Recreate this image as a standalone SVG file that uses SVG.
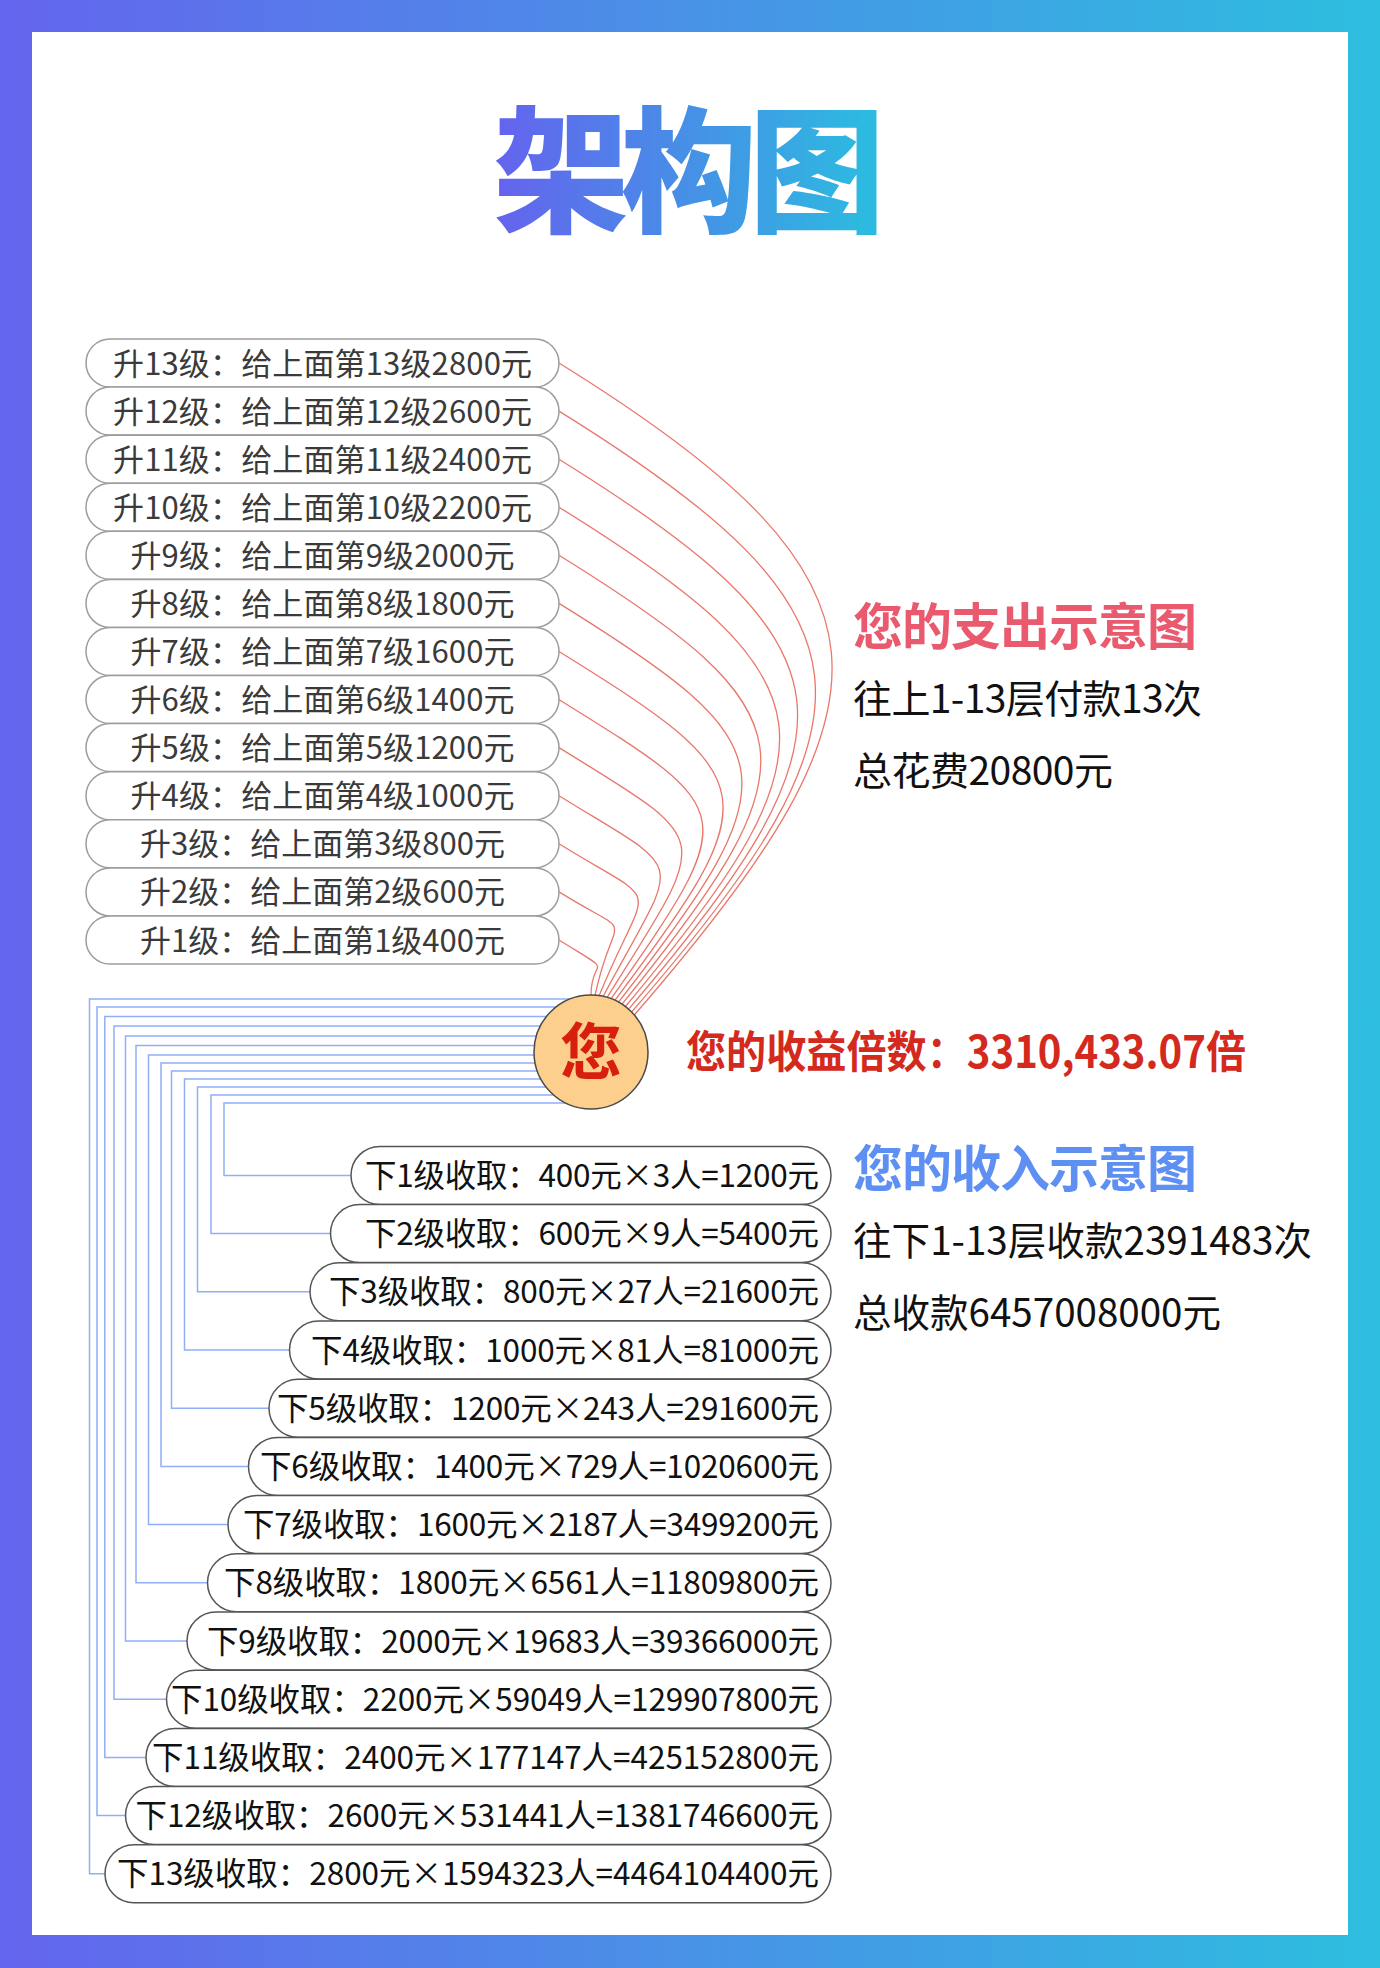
<svg xmlns="http://www.w3.org/2000/svg" width="1380" height="1968" viewBox="0 0 1380 1968">
<defs>
<linearGradient id="frameGrad" x1="0" y1="0" x2="1380" y2="0" gradientUnits="userSpaceOnUse">
<stop offset="0" stop-color="#6465EE"/>
<stop offset="1" stop-color="#2DBEDF"/>
</linearGradient>
<linearGradient id="titleGrad" x1="500" y1="0" x2="878" y2="0" gradientUnits="userSpaceOnUse">
<stop offset="0" stop-color="#6464EE"/>
<stop offset="0.5" stop-color="#4690E6"/>
<stop offset="1" stop-color="#2BBDE0"/>
</linearGradient>
<style>
.cjk{font-family:"Noto Sans CJK SC","Noto Sans",sans-serif}
.upPill{fill:#fff;stroke:#9d9d9d;stroke-width:1.5}
.dnPill{fill:#fff;stroke:#555;stroke-width:1.5}
.upTxt{font-size:31px;fill:#3a3a3a;text-anchor:middle}
.dnTxt{font-size:31.5px;fill:#111;text-anchor:end}
.red{fill:none;stroke:#E9776A;stroke-width:1.3}
.blue{fill:none;stroke:#8FAFF7;stroke-width:1.5}
.blk{font-size:39px;fill:#111}
</style>
</defs>
<rect x="0" y="0" width="1380" height="1968" fill="url(#frameGrad)"/>
<rect x="32" y="32" width="1316" height="1903" fill="#fff"/>

<g id="title">
<text class="cjk" x="493" y="222" font-size="136" font-weight="900" fill="url(#titleGrad)" textLength="392" lengthAdjust="spacing">架构图</text>
</g>

<g id="connectors">
<g id="red-curves">
<path class="red" d="M559 940 C619 977.2 591 955 591 995"/>
<path class="red" d="M559 891.9 C640 942 614.2 905.1 595.1 995.1"/>
<path class="red" d="M559 843.8 C667.3 911 648.2 874.3 599.2 995.6"/>
<path class="red" d="M559 795.7 C691.5 877.9 680.9 850.3 603.2 996.3"/>
<path class="red" d="M559 747.6 C715.7 844.8 712 829.6 607.2 997.3"/>
<path class="red" d="M559 699.6 C739.8 811.7 742.2 811.5 611.1 998.7"/>
<path class="red" d="M559 651.5 C764 778.6 770.3 794.1 614.9 1000.3"/>
<path class="red" d="M559 603.4 C788.2 745.5 795.2 775.9 618.5 1002.1"/>
<path class="red" d="M559 555.3 C812.3 712.3 820.2 759.5 622 1004.2"/>
<path class="red" d="M559 507.2 C836.5 679.3 845 744.8 625.4 1006.5"/>
<path class="red" d="M559 459.2 C860.7 646.3 867.8 729 628.6 1009.1"/>
<path class="red" d="M559 411.1 C884.8 613.1 890.4 714.3 631.6 1012"/>
<path class="red" d="M559 363 C909 580 909.9 698 634.3 1015"/>
</g>
<g id="blue-lines">
<path class="blue" d="M591 1103 H224 V1175.4 H351"/>
<path class="blue" d="M591 1095 H211 V1233.6 H330.5"/>
<path class="blue" d="M591 1087 H197.5 V1291.8 H310"/>
<path class="blue" d="M591 1079 H184.5 V1350 H289.5"/>
<path class="blue" d="M591 1071 H171.5 V1408.2 H269"/>
<path class="blue" d="M591 1063 H161 V1466.4 H248.5"/>
<path class="blue" d="M591 1055 H148.5 V1524.6 H228"/>
<path class="blue" d="M591 1045.5 H136 V1582.8 H207.5"/>
<path class="blue" d="M591 1036 H125.5 V1641 H187"/>
<path class="blue" d="M591 1026 H114 V1699.2 H166.5"/>
<path class="blue" d="M591 1016.5 H104.8 V1757.4 H146"/>
<path class="blue" d="M591 1007 H97 V1815.6 H125.5"/>
<path class="blue" d="M591 999 H89.5 V1873.8 H105"/>
</g>
</g>

<g id="up13"><rect class="upPill" x="86" y="339" width="473" height="48" rx="24"/><text class="cjk upTxt" x="322.5" y="374.5" textLength="419" lengthAdjust="spacing">升13级：给上面第13级2800元</text></g>
<g id="up12"><rect class="upPill" x="86" y="387.1" width="473" height="48" rx="24"/><text class="cjk upTxt" x="322.5" y="422.6" textLength="419" lengthAdjust="spacing">升12级：给上面第12级2600元</text></g>
<g id="up11"><rect class="upPill" x="86" y="435.2" width="473" height="48" rx="24"/><text class="cjk upTxt" x="322.5" y="470.7" textLength="419" lengthAdjust="spacing">升11级：给上面第11级2400元</text></g>
<g id="up10"><rect class="upPill" x="86" y="483.2" width="473" height="48" rx="24"/><text class="cjk upTxt" x="322.5" y="518.7" textLength="419" lengthAdjust="spacing">升10级：给上面第10级2200元</text></g>
<g id="up9"><rect class="upPill" x="86" y="531.3" width="473" height="48" rx="24"/><text class="cjk upTxt" x="322.5" y="566.8" textLength="384" lengthAdjust="spacing">升9级：给上面第9级2000元</text></g>
<g id="up8"><rect class="upPill" x="86" y="579.4" width="473" height="48" rx="24"/><text class="cjk upTxt" x="322.5" y="614.9" textLength="384" lengthAdjust="spacing">升8级：给上面第8级1800元</text></g>
<g id="up7"><rect class="upPill" x="86" y="627.5" width="473" height="48" rx="24"/><text class="cjk upTxt" x="322.5" y="663" textLength="384" lengthAdjust="spacing">升7级：给上面第7级1600元</text></g>
<g id="up6"><rect class="upPill" x="86" y="675.6" width="473" height="48" rx="24"/><text class="cjk upTxt" x="322.5" y="711.1" textLength="384" lengthAdjust="spacing">升6级：给上面第6级1400元</text></g>
<g id="up5"><rect class="upPill" x="86" y="723.6" width="473" height="48" rx="24"/><text class="cjk upTxt" x="322.5" y="759.1" textLength="384" lengthAdjust="spacing">升5级：给上面第5级1200元</text></g>
<g id="up4"><rect class="upPill" x="86" y="771.7" width="473" height="48" rx="24"/><text class="cjk upTxt" x="322.5" y="807.2" textLength="384" lengthAdjust="spacing">升4级：给上面第4级1000元</text></g>
<g id="up3"><rect class="upPill" x="86" y="819.8" width="473" height="48" rx="24"/><text class="cjk upTxt" x="322.5" y="855.3" textLength="365" lengthAdjust="spacing">升3级：给上面第3级800元</text></g>
<g id="up2"><rect class="upPill" x="86" y="867.9" width="473" height="48" rx="24"/><text class="cjk upTxt" x="322.5" y="903.4" textLength="365" lengthAdjust="spacing">升2级：给上面第2级600元</text></g>
<g id="up1"><rect class="upPill" x="86" y="916" width="473" height="48" rx="24"/><text class="cjk upTxt" x="322.5" y="951.5" textLength="365" lengthAdjust="spacing">升1级：给上面第1级400元</text></g>

<g id="you">
<circle cx="591" cy="1052" r="57" fill="#FCD08C" stroke="#4a4a4a" stroke-width="1.5"/>
<text class="cjk" x="591" y="1075" font-size="62" font-weight="700" fill="#D81E0F" text-anchor="middle">您</text>
</g>

<g id="dn1"><rect class="dnPill" x="351" y="1146.4" width="480" height="58" rx="29"/><text class="cjk dnTxt" x="819" y="1187" textLength="454" lengthAdjust="spacing">下1级收取：400元×3人=1200元</text></g>
<g id="dn2"><rect class="dnPill" x="330.5" y="1204.6" width="500.5" height="58" rx="29"/><text class="cjk dnTxt" x="819" y="1245.2" textLength="454" lengthAdjust="spacing">下2级收取：600元×9人=5400元</text></g>
<g id="dn3"><rect class="dnPill" x="310" y="1262.8" width="521" height="58" rx="29"/><text class="cjk dnTxt" x="819" y="1303.4" textLength="490" lengthAdjust="spacing">下3级收取：800元×27人=21600元</text></g>
<g id="dn4"><rect class="dnPill" x="289.5" y="1321" width="541.5" height="58" rx="29"/><text class="cjk dnTxt" x="819" y="1361.6" textLength="508" lengthAdjust="spacing">下4级收取：1000元×81人=81000元</text></g>
<g id="dn5"><rect class="dnPill" x="269" y="1379.2" width="562" height="58" rx="29"/><text class="cjk dnTxt" x="819" y="1419.8" textLength="542" lengthAdjust="spacing">下5级收取：1200元×243人=291600元</text></g>
<g id="dn6"><rect class="dnPill" x="248.5" y="1437.4" width="582.5" height="58" rx="29"/><text class="cjk dnTxt" x="819" y="1478" textLength="559" lengthAdjust="spacing">下6级收取：1400元×729人=1020600元</text></g>
<g id="dn7"><rect class="dnPill" x="228" y="1495.6" width="603" height="58" rx="29"/><text class="cjk dnTxt" x="819" y="1536.2" textLength="576" lengthAdjust="spacing">下7级收取：1600元×2187人=3499200元</text></g>
<g id="dn8"><rect class="dnPill" x="207.5" y="1553.8" width="623.5" height="58" rx="29"/><text class="cjk dnTxt" x="819" y="1594.4" textLength="595" lengthAdjust="spacing">下8级收取：1800元×6561人=11809800元</text></g>
<g id="dn9"><rect class="dnPill" x="187" y="1612" width="644" height="58" rx="29"/><text class="cjk dnTxt" x="819" y="1652.6" textLength="612" lengthAdjust="spacing">下9级收取：2000元×19683人=39366000元</text></g>
<g id="dn10"><rect class="dnPill" x="166.5" y="1670.2" width="664.5" height="58" rx="29"/><text class="cjk dnTxt" x="819" y="1710.8" textLength="648" lengthAdjust="spacing">下10级收取：2200元×59049人=129907800元</text></g>
<g id="dn11"><rect class="dnPill" x="146" y="1728.4" width="685" height="58" rx="29"/><text class="cjk dnTxt" x="819" y="1769" textLength="667" lengthAdjust="spacing">下11级收取：2400元×177147人=425152800元</text></g>
<g id="dn12"><rect class="dnPill" x="125.5" y="1786.6" width="705.5" height="58" rx="29"/><text class="cjk dnTxt" x="819" y="1827.2" textLength="683.5" lengthAdjust="spacing">下12级收取：2600元×531441人=1381746600元</text></g>
<g id="dn13"><rect class="dnPill" x="105" y="1844.8" width="726" height="58" rx="29"/><text class="cjk dnTxt" x="819" y="1885.4" textLength="702" lengthAdjust="spacing">下13级收取：2800元×1594323人=4464104400元</text></g>

<g id="expense-note">
<text class="cjk" x="853" y="645" font-size="50" font-weight="700" fill="#EA5A6F" textLength="344" lengthAdjust="spacing">您的支出示意图</text>
<text class="cjk blk" x="853" y="713" textLength="349" lengthAdjust="spacing">往上1-13层付款13次</text>
<text class="cjk blk" x="853" y="785" textLength="260" lengthAdjust="spacing">总花费20800元</text>
</g>

<g id="ratio">
<text class="cjk" x="686" y="1068" font-size="44" font-weight="700" fill="#D42A1E" textLength="560" lengthAdjust="spacingAndGlyphs">您的收益倍数：3310,433.07倍</text>
</g>

<g id="income-note">
<text class="cjk" x="853" y="1187" font-size="50" font-weight="700" fill="#5E8FF2" textLength="344" lengthAdjust="spacing">您的收入示意图</text>
<text class="cjk blk" x="853" y="1255" textLength="459" lengthAdjust="spacingAndGlyphs">往下1-13层收款2391483次</text>
<text class="cjk blk" x="853" y="1327" textLength="368" lengthAdjust="spacingAndGlyphs">总收款6457008000元</text>
</g>
</svg>
